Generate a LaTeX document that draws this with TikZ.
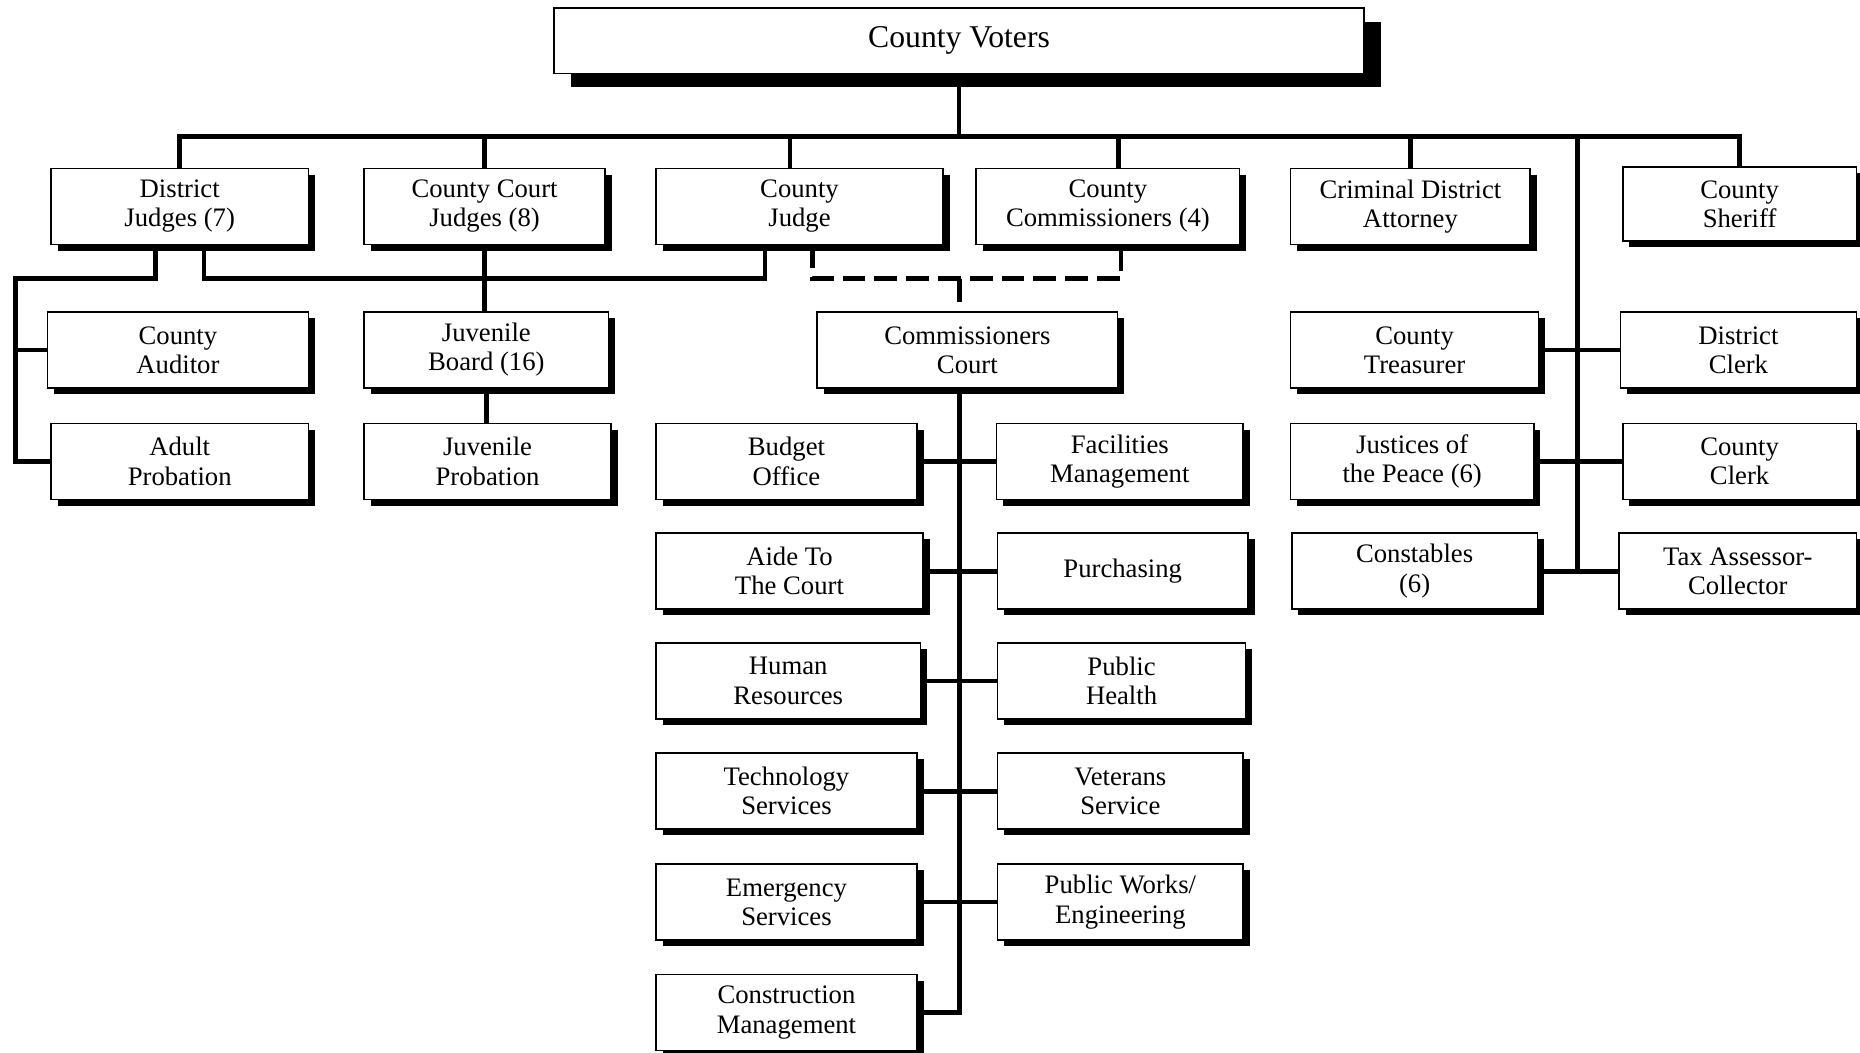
\documentclass[tikz,border=0pt]{standalone}
\usepackage{fontspec}
\setmainfont{Liberation Serif}
\usetikzlibrary{shadows}

\begin{document}
\begin{tikzpicture}[x=0.025cm,y=-0.025cm]
  % Styles
  \tikzstyle{plain box}=[draw,fill=white,line width=1pt,align=center,
    minimum height=1.6cm,inner sep=2pt,font=\fontsize{16}{17.5}\selectfont]
  \tikzstyle{office}=[plain box,
    drop shadow={shadow xshift=0.14cm,shadow yshift=-0.13cm,fill=black,opacity=1}]
  \tikzstyle{top office}=[plain box,minimum height=1.375cm,
    font=\fontsize{19}{22}\selectfont,
    drop shadow={shadow xshift=0.36cm,shadow yshift=-0.28cm,fill=black,opacity=1}]
  \tikzstyle{link}=[line width=2.8pt]
  \tikzstyle{dashed link}=[line width=2.8pt,dash pattern=on 0.48cm off 0.19cm]

  \useasboundingbox (0,0) rectangle (1568,887);

  % The voters
  \node[top office,minimum width=17.075cm] (voters) at (808.5,34.5) {County Voters};

  % Elected officials
  \node[office,minimum width=5.425cm] (dj) at (151.5,174) {District\\Judges (7)};
  \node[office,minimum width=5.075cm] (ccj) at (408.5,174) {County Court\\Judges (8)};
  \node[office,minimum width=6.05cm] (cj) at (674,174) {County\\Judge};
  \node[office,minimum width=5.55cm] (comm) at (934,174) {County\\Commissioners (4)};
  \node[office,minimum width=5.05cm] (cda) at (1189,174) {Criminal District\\Attorney};
  \node[office,minimum width=4.925cm,minimum height=1.55cm] (sheriff) at (1466.5,172) {County\\Sheriff};

  % Second row
  \node[office,minimum width=5.5cm] (auditor) at (150,295) {County\\Auditor};
  \node[office,minimum width=5.15cm] (jboard) at (410,295) {Juvenile\\Board (16)};
  \node[office,minimum width=6.325cm] (court) at (815.5,295) {Commissioners\\Court};
  \node[office,minimum width=5.225cm] (treas) at (1192.5,295) {County\\Treasurer};
  \node[office,minimum width=4.975cm] (dclerk) at (1465.5,295) {District\\Clerk};

  % Third row
  \node[office,minimum width=5.425cm] (adult) at (151.5,389) {Adult\\Probation};
  \node[office,minimum width=5.2cm] (jprob) at (411,389) {Juvenile\\Probation};
  \node[office,minimum width=5.5cm] (budget) at (663,389) {Budget\\Office};
  \node[office,minimum width=5.2cm] (facil) at (944,389) {Facilities\\Management};
  \node[office,minimum width=5.125cm] (jp) at (1190.5,389) {Justices of\\the Peace (6)};
  \node[office,minimum width=4.925cm] (cclerk) at (1466.5,389) {County\\Clerk};

  % Fourth row
  \node[office,minimum width=5.625cm] (aide) at (665.5,481.5) {Aide To\\The Court};
  \node[office,minimum width=5.275cm] (purch) at (946.5,481.5) {Purchasing};
  \node[office,minimum width=5.175cm] (const) at (1192.5,481.5) {Constables\\(6)};
  \node[office,minimum width=5cm] (tax) at (1465,481.5) {Tax Assessor-\\Collector};

  % Court departments
  \node[office,minimum width=5.575cm] (hr) at (664.5,574) {Human\\Resources};
  \node[office,minimum width=5.225cm] (health) at (945.5,574) {Public\\Health};
  \node[office,minimum width=5.5cm] (tech) at (663,667) {Technology\\Services};
  \node[office,minimum width=5.175cm] (vet) at (944.5,667) {Veterans\\Service};
  \node[office,minimum width=5.5cm] (emerg) at (663,760.5) {Emergency\\Services};
  \node[office,minimum width=5.175cm] (works) at (944.5,760.5) {Public Works/\\Engineering};
  \node[office,minimum width=5.5cm] (constr) at (663,853.5) {Construction\\Management};

  % Connectors
  \coordinate (bus) at (808.5,115);
  \coordinate (spine) at (1330,115);
  \coordinate (lbend) at (13,235);
  \coordinate (jline) at (408.5,235);
  \coordinate (dashmid) at (809,235);

  \draw[link] (voters.south) -- (bus);
  \draw[link] (dj.north) |- (bus) -| (sheriff.north);
  \foreach \n in {ccj,cda}
    \draw[link] (\n.north) -- (\n.north |- bus);
  \draw[link] ([xshift=-0.2cm]cj.north) |- (bus);
  \draw[link] ([xshift=0.225cm]comm.north) |- (bus);

  \draw[link] (spine) -- (spine |- const.east);
  \foreach \a/\b in {treas/dclerk,jp/cclerk,const/tax}
    \draw[link] (\a.east) -- (\b.west);

  \draw[link] ([xshift=-0.51cm]dj.south) |- (lbend) |- (adult.west);
  \draw[link] (lbend |- auditor.west) -- (auditor.west);
  \draw[link] ([xshift=0.51cm]dj.south) |- (jline) -| ([xshift=-0.725cm]cj.south);
  \draw[link] (ccj.south) -- (ccj.south |- jboard.north);
  \draw[link] (jboard.south) -- (jboard.south |- jprob.north);

  \draw[dashed link] ([xshift=0.275cm]cj.south) |- (dashmid) -| ([xshift=0.275cm]comm.south);
  \draw[dashed link] (dashmid) -- (dashmid |- court.north);

  \draw[link] ([xshift=-0.16cm]court.south) |- (constr.east);
  \foreach \a/\b in {budget/facil,aide/purch,hr/health,tech/vet,emerg/works}
    \draw[link] (\a.east) -- (\b.west);
\end{tikzpicture}
\end{document}
